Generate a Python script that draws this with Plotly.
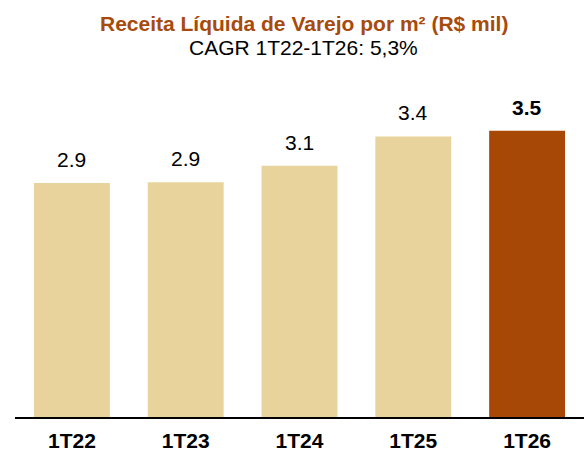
import plotly.graph_objects as go

categories = ["1T22", "1T23", "1T24", "1T25", "1T26"]
values = [2.86, 2.87, 3.07, 3.43, 3.50]
value_labels = ["2.9", "2.9", "3.1", "3.4", "<b>3.5</b>"]
bar_colors = ["#E8D39C", "#E8D39C", "#E8D39C", "#E8D39C", "#A84806"]
tick_labels = ["<b>1T22</b>", "<b>1T23</b>", "<b>1T24</b>", "<b>1T25</b>", "<b>1T26</b>"]
title_text = "<b>Receita Líquida de Varejo por m² (R$ mil)</b>"
subtitle_text = "CAGR 1T22-1T26: 5,3%"

FONT = "Liberation Sans, Arial, sans-serif"

L, R, T, B = 15, 4, 100, 34
W, H = 588, 451
PW, PH = W - L - R, H - T - B

fig = go.Figure()
fig.add_trace(go.Bar(
    x=categories, y=values, marker=dict(color=bar_colors, line=dict(width=0)),
    width=0.667, hoverinfo="skip",
))

for c, v, t in zip(categories, values, value_labels):
    fig.add_annotation(x=c, y=v, text=t, showarrow=False, yanchor="bottom",
                       yshift=10, font=dict(family=FONT, size=21, color="#000000"))

fig.add_annotation(xref="paper", yref="paper", x=(304 - L) / PW, y=(H - B - 24) / PH,
                   text=title_text, showarrow=False, xanchor="center", yanchor="middle",
                   font=dict(family=FONT, size=21, color="#A84A0C"))
fig.add_annotation(xref="paper", yref="paper", x=(303 - L) / PW, y=(H - B - 48) / PH,
                   text=subtitle_text, showarrow=False, xanchor="center", yanchor="middle",
                   font=dict(family=FONT, size=21, color="#000000"))

fig.update_layout(
    width=W, height=H,
    margin=dict(l=L, r=R, t=T, b=B, pad=0, autoexpand=False),
    paper_bgcolor="white", plot_bgcolor="white",
    showlegend=False,
    font=dict(family=FONT, size=21, color="#000000"),
    xaxis=dict(
        type="category", range=[-0.5, 4.5], automargin=False,
        tickmode="array", tickvals=categories, ticktext=tick_labels,
        showline=True, linecolor="#000000", linewidth=2,
        ticks="", showgrid=False, zeroline=False, ticklabelstandoff=4,
        tickfont=dict(family=FONT, size=21, color="#000000"),
    ),
    yaxis=dict(range=[0, 3.875], visible=False, showgrid=False, zeroline=False,
               automargin=False),
)

fig.write_html("out.html", config={"displayModeBar": False},
               post_script="document.body.style.margin='0';document.body.style.overflow='hidden';")
